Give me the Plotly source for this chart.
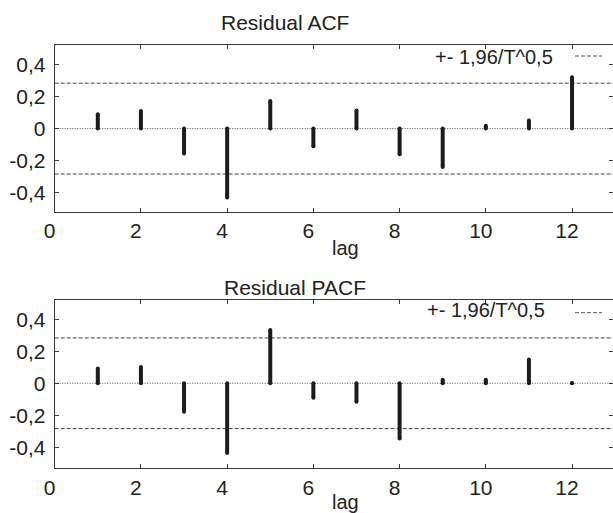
import plotly.graph_objects as go

# ---- data ----
lags = [1, 2, 3, 4, 5, 6, 7, 8, 9, 10, 11, 12]
acf = [0.09, 0.11, -0.155, -0.43, 0.172, -0.11, 0.113, -0.16, -0.24, 0.018, 0.05, 0.32]
pacf = [0.092, 0.102, -0.178, -0.435, 0.332, -0.09, -0.115, -0.345, 0.022, 0.022, 0.148, 0.002]
bound = 0.283  # +- 1.96/T^0.5
x_ticks = [0, 2, 4, 6, 8, 10, 12]
y_ticks = [0.4, 0.2, 0, -0.2, -0.4]
y_ticktext = ["0,4", "0,2", "0", "-0,2", "-0,4"]
titles = ["Residual ACF", "Residual PACF"]
legend_text = "+- 1,96/T^0,5"
x_label = "lag"
x_max = 12.95

W, H = 613, 513
FONT = "Liberation Sans, Arial, sans-serif"
TXT = "#222222"
DARK = "#1c1c1c"
LINE = "#3a3a3a"


def px(x):
    return x / W


def py(y):
    return 1 - y / H


def stems(vals):
    xs, ys = [], []
    for l, v in zip(lags, vals):
        xs += [l, l, None]
        ys += [0, v, None]
    return xs, ys


fig = go.Figure()

for i, vals in enumerate([acf, pacf]):
    xa = "x" if i == 0 else "x2"
    ya = "y" if i == 0 else "y2"
    # zero line
    fig.add_trace(go.Scatter(x=[0, x_max], y=[0, 0], mode="lines", xaxis=xa, yaxis=ya,
                             line=dict(color="#555555", width=1, dash="1px,1.5px"),
                             hoverinfo="skip", showlegend=False))
    # confidence bounds
    for b in (bound, -bound):
        fig.add_trace(go.Scatter(x=[0, x_max], y=[b, b], mode="lines", xaxis=xa, yaxis=ya,
                                 line=dict(color="#444444", width=1, dash="4px,2px"),
                                 hoverinfo="skip", showlegend=False))
    xs, ys = stems(vals)
    fig.add_trace(go.Scatter(x=xs, y=ys, mode="lines+markers", xaxis=xa, yaxis=ya,
                             line=dict(color=DARK, width=4),
                             marker=dict(color=DARK, size=4, line=dict(width=0)),
                             showlegend=False))

axis_common = dict(
    showline=True, linecolor=LINE, linewidth=1, mirror="ticks",
    ticks="inside", ticklen=4, tickcolor=LINE, tickwidth=1,
    showgrid=False, zeroline=False, automargin=False,
    tickfont=dict(family=FONT, size=21, color=TXT),
)

x_dom = [px(54.7), 1]
y_doms = [[py(211.7), py(45)], [py(468.3), py(300)]]
y_ranges = [[-0.518, 0.521], [-0.531, 0.52]]

layout = dict(
    width=W, height=H,
    margin=dict(l=0, r=0, t=0, b=0),
    paper_bgcolor="white", plot_bgcolor="white",
    template="none",
    showlegend=False,
    font=dict(family=FONT, color=TXT),
)
for i in range(2):
    sx = "" if i == 0 else "2"
    layout["xaxis" + sx] = dict(axis_common, domain=x_dom, range=[0, x_max],
                                tickvals=x_ticks, ticklabelshift=-5,
                                anchor="y" + sx)
    layout["yaxis" + sx] = dict(axis_common, domain=y_doms[i], range=y_ranges[i],
                                tickvals=y_ticks, ticktext=y_ticktext,
                                ticklabelstandoff=4,
                                anchor="x" + sx)
fig.update_layout(**layout)

# titles, axis labels, legend texts
title_pos = [(284.5, 23), (295, 287)]
lag_pos = [(345.5, 248), (345, 502)]
legend_pos = [(555, 56.7, 56), (546.7, 310, 312.7)]
annots = []
shapes = []
for i in range(2):
    tx, ty = title_pos[i]
    annots.append(dict(text=titles[i], x=px(tx), y=py(ty), xref="paper", yref="paper",
                       xanchor="center", yanchor="middle", showarrow=False,
                       font=dict(family=FONT, size=21, color=TXT)))
    lx, ly = lag_pos[i]
    annots.append(dict(text=x_label, x=px(lx), y=py(ly), xref="paper", yref="paper",
                       xanchor="center", yanchor="middle", showarrow=False,
                       font=dict(family=FONT, size=20, color=TXT)))
    gx, gy, sy = legend_pos[i]
    annots.append(dict(text=legend_text, x=px(gx), y=py(gy), xref="paper", yref="paper",
                       xanchor="right", yanchor="middle", showarrow=False,
                       font=dict(family=FONT, size=20, color=TXT)))
    shapes.append(dict(type="line", xref="paper", yref="paper",
                       x0=px(575), x1=px(602), y0=py(sy), y1=py(sy),
                       line=dict(color="#555555", width=1, dash="4px,2px")))
fig.update_layout(annotations=annots, shapes=shapes)

fig.write_html("out.html",
               config={"displayModeBar": False},
               post_script="document.body.style.margin='0';document.body.style.overflow='hidden';")
